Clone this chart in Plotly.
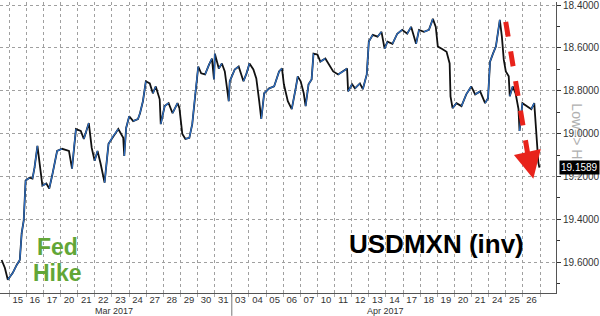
import plotly.graph_objects as go

# trading-day labels (x axis categories, one per session)
day_labels = ["15", "16", "17", "20", "21", "22", "23", "24", "27", "28", "29", "30", "31",
              "03", "04", "05", "06", "07", "10", "11", "12", "13", "14", "17", "18", "19",
              "20", "21", "24", "25", "26"]
month_labels = ["Mar 2017", "Apr 2017"]
month_label_pos = [5.6, 21.5]
month_break = 12.5

# time in trading-day units (0 = 15 Mar session) and USDMXN values
t = [-0.94, -0.75, -0.58, -0.29, -0.06, 0.12, 0.23, 0.35, 0.46, 0.69, 0.86, 0.98, 1.15, 1.27,
     1.44, 1.67, 1.84, 2.01, 2.30, 2.59, 2.99, 3.17, 3.28, 3.40, 3.68, 3.86, 4.15, 4.32, 4.49,
     4.66, 4.84, 5.07, 5.30, 5.58, 5.87, 6.16, 6.22, 6.33, 6.51, 6.74, 7.02, 7.14, 7.31, 7.48,
     7.71, 7.89, 8.06, 8.29, 8.35, 8.58, 8.81, 9.04, 9.33, 9.44, 9.61, 9.79, 10.02, 10.19,
     10.36, 10.54, 10.71, 10.94, 11.17, 11.34, 11.46, 11.51, 11.74, 11.92, 12.09, 12.32,
     12.38, 12.67, 12.90, 13.18, 13.36, 13.53, 13.76, 13.93, 14.10, 14.22, 14.39, 14.68,
     14.97, 15.26, 15.43, 15.54, 15.77, 16.00, 16.23, 16.35, 16.52, 16.70, 16.81, 16.98,
     17.16, 17.27, 17.50, 17.67, 17.96, 18.13, 18.42, 18.71, 19.00, 19.23, 19.29, 19.52,
     19.69, 19.98, 20.15, 20.38, 20.50, 20.73, 21.01, 21.24, 21.42, 21.59, 21.88, 22.16,
     22.45, 22.74, 22.97, 23.26, 23.43, 23.72, 24.01, 24.24, 24.41, 24.53, 24.76, 25.04,
     25.22, 25.27, 25.39, 25.62, 25.91, 26.19, 26.48, 26.71, 27.00, 27.29, 27.46, 27.58,
     27.75, 27.92, 28.15, 28.27, 28.38, 28.50, 28.67, 28.73, 28.90, 29.07, 29.24, 29.30,
     29.47, 29.76, 29.99, 30.16, 30.22, 30.28, 30.40, 30.46]
usdmxn = [19.590, 19.627, 19.682, 19.650, 19.613, 19.590, 19.465, 19.405, 19.219, 19.206,
          19.210, 19.159, 19.057, 19.127, 19.243, 19.233, 19.256, 19.196, 19.081, 19.071,
          19.081, 19.164, 19.067, 18.979, 18.988, 19.025, 18.951, 19.067, 19.127, 19.081,
          19.141, 19.229, 19.048, 19.011, 18.979, 19.020, 19.104, 18.974, 18.919, 18.942,
          18.932, 18.905, 18.849, 18.756, 18.766, 18.812, 18.780, 18.840, 18.956, 18.872,
          18.858, 18.905, 18.858, 18.881, 19.002, 19.025, 19.020, 18.956, 18.817, 18.687,
          18.719, 18.724, 18.678, 18.650, 18.747, 18.627, 18.696, 18.673, 18.710, 18.849,
          18.756, 18.701, 18.687, 18.756, 18.719, 18.673, 18.701, 18.743, 18.849, 18.932,
          18.812, 18.789, 18.780, 18.710, 18.696, 18.770, 18.849, 18.886, 18.789, 18.733,
          18.756, 18.812, 18.872, 18.770, 18.747, 18.627, 18.631, 18.664, 18.650, 18.673,
          18.710, 18.724, 18.710, 18.696, 18.803, 18.770, 18.789, 18.766, 18.793, 18.724,
          18.571, 18.539, 18.548, 18.525, 18.604, 18.571, 18.581, 18.534, 18.516, 18.534,
          18.502, 18.581, 18.516, 18.525, 18.516, 18.465, 18.502, 18.594, 18.604, 18.618,
          18.673, 18.826, 18.881, 18.858, 18.872, 18.817, 18.780, 18.817, 18.803, 18.858,
          18.835, 18.664, 18.627, 18.594, 18.469, 18.548, 18.655, 18.710, 18.733, 18.826,
          18.780, 18.812, 18.886, 18.988, 18.858, 18.872, 18.886, 18.858, 18.942, 19.002,
          19.136, 19.1589]
last_value = 19.1589
y_ticks = [18.4, 18.6, 18.8, 19.0, 19.2, 19.4, 19.6]

W, H = 600, 316
ML, MR, MT, MB = 0, 36, 0, 23
PW, PH = W - ML - MR, H - MT - MB


def px(x):
    return (x - ML) / PW


def py(y):
    return 1 - (y - MT) / PH


fig = go.Figure()

# black full line
fig.add_trace(go.Scatter(x=t, y=usdmxn, mode="lines",
                         line=dict(color="#111111", width=1.8), hoverinfo="skip"))
# blue segments where the inverted line rises
bx, by = [], []
for i in range(len(t) - 1):
    if usdmxn[i + 1] < usdmxn[i]:
        bx += [t[i], t[i + 1], None]
        by += [usdmxn[i], usdmxn[i + 1], None]
fig.add_trace(go.Scatter(x=bx, y=by, mode="lines",
                         line=dict(color="#2e6fc4", width=1.3), hoverinfo="skip"))

grid = "#a0a0a0"
fig.update_layout(
    width=W, height=H,
    margin=dict(l=ML, r=MR, t=MT, b=MB),
    paper_bgcolor="white", plot_bgcolor="white",
    showlegend=False,
    font=dict(family="Liberation Sans, Arial", size=10, color="#333333"),
    xaxis=dict(
        range=[-1.036, 31.43],
        tickmode="array",
        tickvals=list(range(len(day_labels))),
        ticktext=day_labels,
        showgrid=False, zeroline=False,
        ticks="", ticklen=0, ticklabelstandoff=-2,
        showline=True, linecolor="#555555", linewidth=1,
        tickfont=dict(size=9.5, color="#333333"),
        minor=dict(tick0=-0.5, dtick=1, showgrid=True, gridcolor=grid,
                   griddash="dot", gridwidth=1, ticks="outside", ticklen=3,
                   tickcolor="#aaaaaa"),
    ),
    yaxis=dict(
        range=[19.744, 18.386],
        side="right",
        tickmode="array",
        tickvals=y_ticks,
        ticktext=["%.4f" % v for v in y_ticks],
        ticklabeloverflow="allow",
        showgrid=True, gridcolor=grid, griddash="dot", gridwidth=1,
        zeroline=False,
        showline=True, linecolor="#555555", linewidth=1,
        ticks="outside", ticklen=4, tickcolor="#333333",
        tickfont=dict(size=10, color="#333333"),
        minor=dict(tick0=18.3, dtick=0.2, ticks="outside", ticklen=3,
                   tickcolor="#333333", showgrid=False),
    ),
)

# month separator
fig.add_shape(type="line", xref="x", yref="paper", x0=month_break, x1=month_break,
              y0=0, y1=-(MB / PH), line=dict(color="#777777", width=1))

for lab, pos in zip(month_labels, month_label_pos):
    fig.add_annotation(x=pos, y=0, xref="x", yref="paper", xanchor="center",
                       yanchor="top", yshift=-12, text=lab, showarrow=False,
                       borderpad=0, font=dict(size=9, color="#333333"))

# red dashed arrow
fig.add_shape(type="line", xref="paper", yref="paper",
              x0=px(513), y0=py(20), x1=px(537), y1=py(163),
              line=dict(color="#e8231b", width=5, dash="dash"))
fig.add_annotation(xref="paper", yref="paper", x=px(541), y=py(178),
                   ax=-4, ay=-18, text="", showarrow=True, arrowhead=2,
                   arrowsize=1.1, arrowwidth=5, arrowcolor="#e8231b")

# text labels
for txt, yy in (("Fed", 247), ("Hike", 273)):
    fig.add_annotation(xref="paper", yref="paper", x=px(58), y=py(yy),
                       xanchor="center", yanchor="middle", text="<b>%s</b>" % txt,
                       showarrow=False, borderpad=0,
                       font=dict(size=23, color="#62a637", family="Liberation Sans, Arial"))
fig.add_annotation(xref="paper", yref="paper", x=px(443), y=py(244),
                   xanchor="center", yanchor="middle",
                   text="<b>USDMXN (inv)</b>", showarrow=False,
                   font=dict(size=26, color="#000000", family="Liberation Sans, Arial"))

# axis side label
fig.add_annotation(xref="paper", yref="paper", x=px(585), y=py(140),
                   xanchor="center", yanchor="middle",
                   text="Low=> High", textangle=90, showarrow=False,
                   font=dict(size=14, color="#b0b0b0"))

# last value tag
fig.add_annotation(xref="paper", yref="y", x=px(567), y=last_value, xanchor="left",
                   yanchor="middle", text="%.4f" % last_value, showarrow=False,
                   bgcolor="#000000", borderpad=1, font=dict(size=10, color="#ffffff"))

fig.write_html("out.html")
